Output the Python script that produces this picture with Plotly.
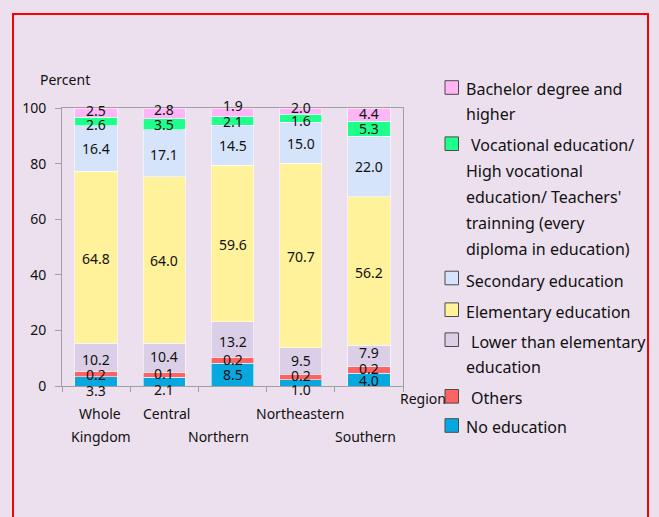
import plotly.graph_objects as go

# ---------------- data ----------------
categories = ["Whole Kingdom", "Central", "Northern", "Northeastern", "Southern"]
cat_line1 = ["Whole", "Central", "", "Northeastern", ""]
cat_line2 = ["Kingdom", "", "Northern", "", "Southern"]

series_names = [
    "No education",
    "Others",
    "Lower than elementary education",
    "Elementary education",
    "Secondary education",
    "Vocational education/ High vocational education/ Teachers' trainning (every diploma in education)",
    "Bachelor degree and higher",
]

# segment heights as drawn (percent)
no_edu = [3.3, 3.2, 8.2, 2.2, 4.6]
others = [2.0, 1.8, 2.2, 2.0, 2.4]
lower_elem = [10.0, 10.3, 12.8, 9.6, 7.7]
elementary = [62.0, 59.9, 56.2, 66.4, 53.3]
secondary = [16.3, 16.9, 14.4, 14.7, 21.9]
vocational = [3.1, 4.1, 3.0, 2.9, 5.3]
bachelor = [3.3, 3.8, 3.2, 2.2, 4.8]

# printed value labels
lbl_no_edu = ["3.3", "2.1", "8.5", "1.0", "4.0"]
lbl_others = ["0.2", "0.1", "0.2", "0.2", "0.2"]
lbl_lower = ["10.2", "10.4", "13.2", "9.5", "7.9"]
lbl_elem = ["64.8", "64.0", "59.6", "70.7", "56.2"]
lbl_sec = ["16.4", "17.1", "14.5", "15.0", "22.0"]
lbl_voc = ["2.6", "3.5", "2.1", "1.6", "5.3"]
lbl_bach = ["2.5", "2.8", "1.9", "2.0", "4.4"]

y_ticks = [0, 20, 40, 60, 80, 100]

# ---------------- style ----------------
colors = ["#07a8df", "#ff6262", "#dbcfe7", "#fff29b", "#d5e4fa", "#1fff8b", "#ffb5f6"]
label_shift = [  # yshift (px) for value labels, per series, per category
    [-9, -8, 0, -7, -1],
    [0, 1, 1, 1.5, 1],
    [-2, 1, -2, 0, 3],
    [-1, 0, -1.5, -1, -1.7],
    [0, -1, 0, -1, 0],
    [-3, 0, 0, -2, 0],
    [1.6, 4, 7, 4, 1],
]
cat_xshift1 = [4, 2, 0, -1, 0]
cat_xshift2 = [5, 0, -14, 0, -3]

BG = "#ece0ee"
FONT = "Noto Sans"
TXT = "#111111"

W, H = 659, 517
L, R, T, B = 62, 403, 108, 386  # plot area in px


def px(x):
    return (x - L) / (R - L)


def py(y):
    return (B - y) / (B - T)


series_vals = [no_edu, others, lower_elem, elementary, secondary, vocational, bachelor]
series_lbls = [lbl_no_edu, lbl_others, lbl_lower, lbl_elem, lbl_sec, lbl_voc, lbl_bach]

fig = go.Figure()
for name, vals, col in zip(series_names, series_vals, colors):
    fig.add_trace(go.Bar(
        x=categories, y=vals, name=name,
        marker=dict(color=col, line=dict(color="rgba(255,255,255,0.55)", width=1)),
        width=0.62, showlegend=False, hoverinfo="skip",
    ))

annotations = []
# value labels centered on segments
for i, cat in enumerate(categories):
    base = 0.0
    for s, (vals, lbls) in enumerate(zip(series_vals, series_lbls)):
        center = base + vals[i] / 2
        base += vals[i]
        annotations.append(dict(
            x=cat, y=center, xref="x", yref="y", text=lbls[i], showarrow=False,
            yshift=label_shift[s][i], font=dict(family=FONT, size=14, color=TXT),
            xanchor="center", yanchor="middle",
        ))

# category labels (staggered)
for i, cat in enumerate(categories):
    if cat_line1[i]:
        annotations.append(dict(x=cat, y=py(413), xref="x", yref="paper", text=cat_line1[i],
                                showarrow=False, xshift=cat_xshift1[i],
                                font=dict(family=FONT, size=14, color=TXT),
                                xanchor="center", yanchor="middle"))
    if cat_line2[i]:
        annotations.append(dict(x=cat, y=py(436), xref="x", yref="paper", text=cat_line2[i],
                                showarrow=False, xshift=cat_xshift2[i],
                                font=dict(family=FONT, size=14, color=TXT),
                                xanchor="center", yanchor="middle"))

# axis titles
annotations.append(dict(x=px(65), y=py(79), xref="paper", yref="paper", text="Percent",
                        showarrow=False, font=dict(family=FONT, size=14, color=TXT),
                        xanchor="center", yanchor="middle"))
annotations.append(dict(x=px(398), y=py(398), xref="paper", yref="paper", text="Region",
                        showarrow=False, font=dict(family=FONT, size=14, color=TXT),
                        xanchor="left", yanchor="middle"))

# custom legend (top to bottom)
legend_items = [
    (6, 87.5, [("Bachelor degree and", 464, 89), ("higher", 464, 114)]),
    (5, 143.7, [("Vocational education/", 469, 145), ("High vocational", 464, 171),
                ("education/ Teachers'", 464, 197), ("trainning (every", 464, 223),
                ("diploma in education)", 464, 249)]),
    (4, 278, [("Secondary education", 464, 281)]),
    (3, 309.7, [("Elementary education", 464, 311.5)]),
    (2, 339.7, [("Lower than elementary", 469, 341.5), ("education", 464, 366.5)]),
    (1, 396.3, [("Others", 469, 398)]),
    (0, 425.5, [("No education", 464, 427)]),
]
shapes = []
for s, cy, lines in legend_items:
    shapes.append(dict(type="rect", xref="paper", yref="paper",
                       x0=px(445), x1=px(458.5), y0=py(cy + 6.8), y1=py(cy - 6.8),
                       fillcolor=colors[s], line=dict(color="#4a4a4a", width=1)))
    for text, lx, ly in lines:
        annotations.append(dict(x=px(lx), y=py(ly), xref="paper", yref="paper", text=text,
                                showarrow=False, font=dict(family=FONT, size=16, color=TXT),
                                xanchor="left", yanchor="middle"))

# red frame
shapes.append(dict(type="rect", xref="paper", yref="paper", layer="below",
                   x0=px(13), x1=px(648), y0=py(540), y1=py(14),
                   line=dict(color="#ff0000", width=2), fillcolor="rgba(0,0,0,0)"))

fig.update_layout(
    width=W, height=H,
    margin=dict(l=L, r=W - R, t=T, b=H - B, pad=0),
    paper_bgcolor=BG, plot_bgcolor=BG,
    barmode="stack", bargap=0.38,
    font=dict(family=FONT, size=14, color=TXT),
    annotations=annotations, shapes=shapes,
    showlegend=False,
)
fig.update_xaxes(
    type="category", tickson="boundaries", showticklabels=False,
    ticks="outside", ticklen=5, tickcolor="#a0a0a0",
    showline=True, linecolor="#a0a0a0", linewidth=1, mirror=True,
    showgrid=False, zeroline=False,
)
fig.update_yaxes(
    range=[0, 100], tickvals=y_ticks, ticks="outside", ticklen=6, tickcolor="#a0a0a0",
    showline=True, linecolor="#a0a0a0", linewidth=1, mirror=True,
    showgrid=False, zeroline=False, ticklabelstandoff=6,
    tickfont=dict(family=FONT, size=14, color=TXT),
)

fig.write_html(
    "out.html",
    config={"displayModeBar": False, "staticPlot": True},
    post_script="document.body.style.margin='0';document.body.style.background='" + BG + "';",
)
